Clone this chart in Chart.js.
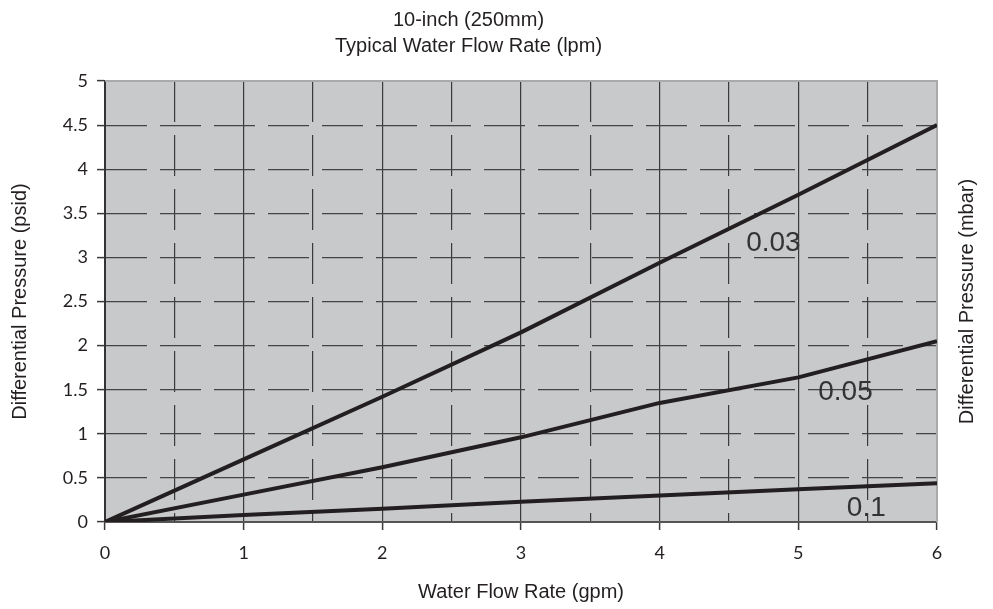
<!DOCTYPE html>
<html lang="en">
  <head>
    <meta charset="UTF-8" />
    <title>10-inch Water Flow Rate</title>
    <script src="https://cdn.jsdelivr.net/npm/chart.js"></script>
    <style>
      body {
        margin: 0;
        background: #ffffff;
      }
      canvas {
        display: block;
      }
    </style>
  </head>
  <body>
    <canvas id="flowChart" width="993" height="609"></canvas>

    <script>
      // Flow rate (gpm) on the x axis
      const flowRate = [0, 1, 2, 3, 4, 5, 6];

      // Pressure drop (psid) per micron rating
      const series003 = [0, 0.71, 1.42, 2.15, 2.94, 3.71, 4.5];
      const series005 = [0, 0.31, 0.62, 0.96, 1.35, 1.64, 2.05];
      const series01 = [0, 0.08, 0.15, 0.23, 0.3, 0.37, 0.44];

      // curve labels and where they sit (in data units)
      const curveNames = ["0.03", "0.05", "0.1"];
      const curveLabelX = [4.82, 5.34, 5.49];
      const curveLabelY = [3.16, 1.47, 0.15];

      const xTicks = [0, 1, 2, 3, 4, 5, 6];
      const xHalfTicks = [0.5, 1.5, 2.5, 3.5, 4.5, 5.5];
      const yMax = 5;

      const narrow = "'Liberation Sans Narrow', 'Arial Narrow', 'Liberation Sans', sans-serif";
      const tickFont = "Lato, 'Open Sans', sans-serif";
      const ink = "#231f20";

      // grey plot background + light top/right frame + curve labels + right title
      const decor = {
        id: "decor",
        beforeDraw(chart) {
          const { ctx, chartArea: a } = chart;
          ctx.save();
          ctx.fillStyle = "#c8c9cb";
          ctx.fillRect(a.left, a.top, a.right - a.left, a.bottom - a.top);
          ctx.restore();
        },
        beforeDatasetsDraw(chart) {
          const { ctx, chartArea: a } = chart;
          ctx.save();
          ctx.strokeStyle = "#a9aaac";
          ctx.lineWidth = 2;
          ctx.beginPath();
          ctx.moveTo(a.left, a.top);
          ctx.lineTo(a.right, a.top);
          ctx.lineTo(a.right, a.bottom);
          ctx.stroke();
          ctx.restore();
        },
        afterDraw(chart) {
          const { ctx, chartArea: a, scales } = chart;
          ctx.save();
          ctx.fillStyle = "#333333";
          ctx.font = "28px " + narrow;
          ctx.textAlign = "center";
          ctx.textBaseline = "middle";
          curveNames.forEach((name, i) => {
            const px = scales.x.getPixelForValue(curveLabelX[i]);
            const py = scales.y.getPixelForValue(curveLabelY[i]);
            ctx.fillText(name, px, py);
          });

          // right-hand axis title reads bottom-to-top like the left one
          ctx.fillStyle = ink;
          ctx.font = "20px " + narrow;
          ctx.translate(a.right + 30, (a.top + a.bottom) / 2);
          ctx.rotate(-Math.PI / 2);
          ctx.fillText("Differential Pressure (mbar)", 0, 0);
          ctx.restore();
        },
      };

      const lineStyle = {
        borderColor: ink,
        borderWidth: 4,
        pointRadius: 0,
        tension: 0,
        fill: false,
        borderJoinStyle: "round",
      };

      new Chart(document.getElementById("flowChart"), {
        type: "line",
        data: {
          datasets: [
            { label: "0.03", data: flowRate.map((x, i) => ({ x, y: series003[i] })), ...lineStyle },
            { label: "0.05", data: flowRate.map((x, i) => ({ x, y: series005[i] })), ...lineStyle },
            { label: "0.1", data: flowRate.map((x, i) => ({ x, y: series01[i] })), ...lineStyle },
          ],
        },
        options: {
          responsive: false,
          animation: false,
          layout: { padding: { left: 0, right: 56, top: 0, bottom: 0 } },
          plugins: {
            legend: { display: false },
            tooltip: { enabled: false },
            title: {
              display: true,
              text: ["10-inch (250mm)", "Typical Water Flow Rate (lpm)"],
              color: ink,
              font: { family: narrow, size: 20, weight: "normal", lineHeight: 1.3 },
              padding: { top: 7, bottom: 22 },
            },
          },
          scales: {
            x: {
              type: "linear",
              min: 0,
              max: 6,
              afterBuildTicks: (s) => {
                s.ticks = xTicks.map((v) => ({ value: v }));
              },
              afterFit: (s) => {
                s.height = 87;
              },
              ticks: {
                color: ink,
                font: { family: tickFont, size: 18 },
                padding: 12,
                maxRotation: 0,
                callback: (v) => String(v),
              },
              grid: {
                color: (c) => (c.tick && c.tick.value === 6 ? "#a9aaac" : "#3a3a3a"),
                lineWidth: 1.2,
                tickLength: 8,
                tickColor: "#3a3a3a",
                tickWidth: 1.5,
              },
              border: { color: "#555555", width: 2 },
              title: {
                display: true,
                text: "Water Flow Rate (gpm)",
                color: ink,
                font: { family: narrow, size: 20 },
                padding: { top: 0, bottom: 5 },
              },
            },
            xh: {
              type: "linear",
              position: "bottom",
              min: 0,
              max: 6,
              afterBuildTicks: (s) => {
                s.ticks = xHalfTicks.map((v) => ({ value: v }));
              },
              afterFit: (s) => {
                s.height = 0;
              },
              ticks: { display: false },
              grid: {
                color: "#3a3a3a",
                lineWidth: 1.2,
                drawTicks: false,
              },
              border: { display: false, dash: [41, 13] },
            },
            y: {
              type: "linear",
              min: 0,
              max: yMax,
              ticks: {
                stepSize: 0.5,
                color: ink,
                font: { family: tickFont, size: 18 },
                padding: 9,
                callback: (v) => String(v),
              },
              afterFit: (s) => {
                s.width = 105;
              },
              grid: {
                color: (c) => (c.tick && c.tick.value === yMax ? "rgba(0,0,0,0)" : "#444444"),
                lineWidth: 1.2,
                tickLength: 8,
                tickColor: "#3a3a3a",
                tickWidth: 1.5,
                tickBorderDash: [],
              },
              border: { color: "#333333", width: 2, dash: [41, 13] },
              title: {
                display: true,
                text: "Differential Pressure (psid)",
                color: ink,
                font: { family: narrow, size: 20 },
                padding: { top: 8, bottom: 0 },
              },
            },
          },
        },
        plugins: [decor],
      });
    </script>
  </body>
</html>
